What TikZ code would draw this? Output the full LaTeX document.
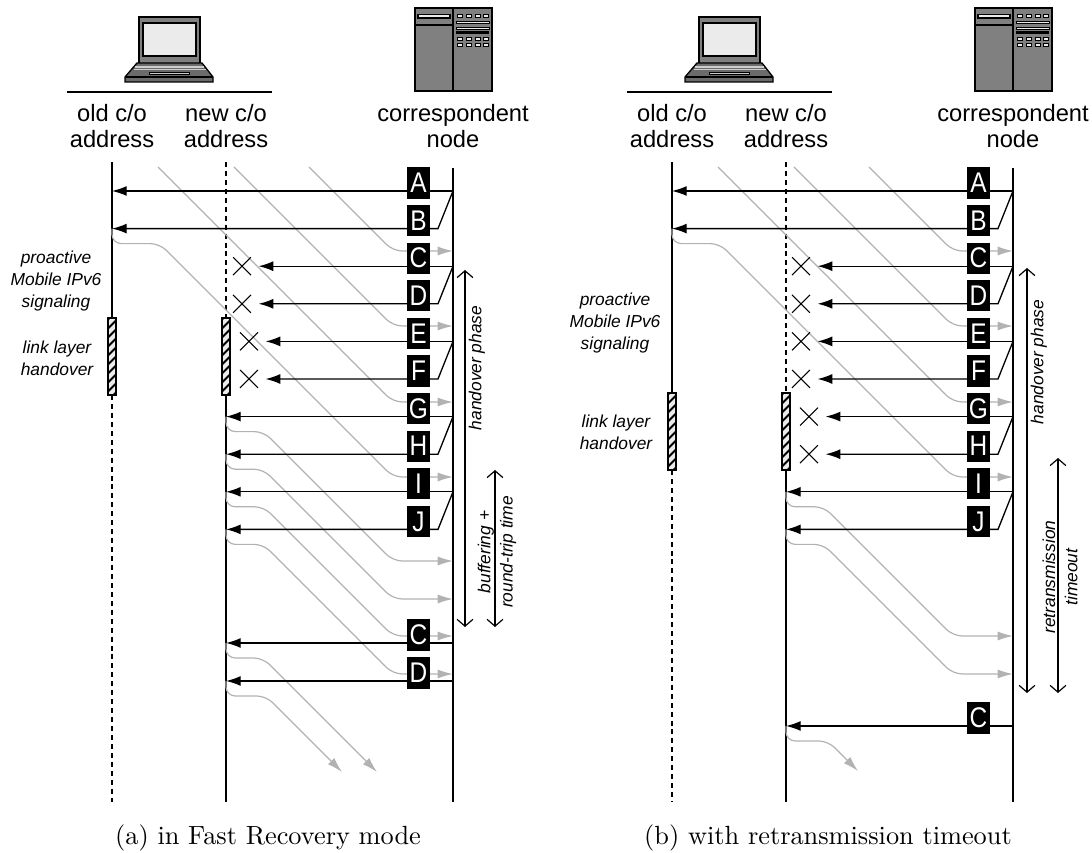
\documentclass[tikz,border=0pt]{standalone}
\usepackage{fontspec}
\usetikzlibrary{arrows.meta,shapes.misc}

\newfontfamily\hvfont{Liberation Sans}
\newfontfamily\hvnarrow[FakeStretch=0.86]{Liberation Sans}
\newcommand{\hostfont}{\hvfont\fontsize{9}{9.6}\selectfont}
\newcommand{\notefont}{\hvfont\itshape\fontsize{6.6}{8.4}\selectfont}
\newcommand{\pktfont}{\hvnarrow\fontsize{10.8}{12}\selectfont}

% ack: leaves lifeline #1 at time #2, reaches lifeline #4 at time #3
\newcommand{\ackline}[4]{%
  \draw[ack] (#1 |- 0,#2) -- ++(0,15) -- (393-#3+#2+15,#2+15) -- (393,#3) -- (#4 |- 0,#3);}

\tikzset{
  laptop/.pic={
    \draw[fill=black!50] (-30,17) rectangle (31,65);
    \draw[fill=black!8] (-26,23) rectangle (27,56);
    \draw[fill=black!58] (-32,63) -- (33,63) -- (44,77) -- (44,82) -- (-44,82) -- (-44,77) -- cycle;
    \draw (-44,77) -- (44,77);
    \draw[black!20, line width=0.6pt] (-34,67) -- (35,67) (-35.5,69.5) -- (36.5,69.5);
    \draw[fill=black!20, line width=0.3pt] (-20,72) rectangle (20,74.5);
  },
  server/.pic={
    \draw[fill=black!50, line width=0.6pt] (-38,8) rectangle (39,91);
    \draw[line width=0.6pt] (0,8) -- (0,91) (-38,25) -- (0,25);
    \draw[fill=black!8, line width=0.4pt] (-35,14.5) rectangle (-3,18);
    \foreach \y in {14.5,37,43}
      \foreach \x in {4,13,22,30}
        \draw[fill=black!8, line width=0.3pt] (\x,\y) rectangle +(5,3);
    \draw[fill=black!8, line width=0.3pt] (3,21.5) rectangle (36,23.5);
    \draw[fill=black!8, line width=0.3pt] (3,27) rectangle (36,29.5);
    \fill (3,31.5) rectangle (36,34);
  },
  hobar/.pic={
    \begin{scope}
      \clip (-4,0) rectangle (4,77);
      \fill (-4,0) rectangle (4,77);
      \foreach \k in {0,...,9}
        \draw[black!8, line width=1.5pt] (-6,\k*9+8) -- (6,\k*9-4);
    \end{scope}
    \draw[line width=0.45pt] (-4,0) rectangle (4,77);
  }
}

\begin{document}
\begin{tikzpicture}[x=0.38pt, y=-0.38pt, line width=0.5pt,
  host/.style={font=\hostfont, align=center, inner sep=0pt},
  note/.style={font=\notefont, align=center, inner sep=0pt},
  pkt/.style={fill=black, text=white, font=\pktfont, minimum width=8.7pt,
    minimum height=11.8pt, inner sep=0pt},
  msg/.style={-{Latex[length=5.6pt,width=3.8pt]}},
  ack/.style={draw=black!30, line width=0.45pt, rounded corners=3.5pt,
    -{Latex[length=5.8pt,width=3.4pt]}},
  lost/.style={cross out, draw, minimum size=6.4pt, inner sep=0pt, line width=0.4pt},
  timespan/.style={line width=0.45pt,
    {Straight Barb[length=2.6pt,width=6pt]}-{Straight Barb[length=2.6pt,width=6pt]}},
  life/.style={line width=0.6pt},
  gone/.style={line width=0.6pt, dash pattern=on 1.9pt off 1.5pt}]
\useasboundingbox (0,0) rectangle (1092,853);

%%% (a) fast recovery
\pic at (169,0) {laptop};
\pic at (453,0) {server};
\draw (67,92) -- (272,92);
\node[host] (old1) at (112,126) {old c/o\\address};
\node[host] (new1) at (226,126) {new c/o\\address};
\node[host] (cn1) at (453,126) {correspondent\\node};

\draw[life] (old1 |- 0,162) -- (old1 |- 0,318);
\draw[gone] (old1 |- 0,395) -- (old1 |- 0,802);
\draw[gone] (new1 |- 0,162) -- (new1 |- 0,318);
\draw[life] (new1 |- 0,395) -- (new1 |- 0,802);
\draw[life] (cn1 |- 0,168) -- (cn1 |- 0,802);
\pic at (old1 |- 0,318) {hobar};
\pic at (new1 |- 0,318) {hobar};

\node[note] (sig1) at (56,281) {proactive\\Mobile IPv6\\signaling};
\node[note] (llh1) at (57,358) {link layer\\handover};

% acks
\foreach \ye in {251,326,402}
  \draw[ack] (393-\ye+167,167) -- (393,\ye) -- (cn1 |- 0,\ye);
\ackline{old1}{228.6}{477}{cn1}
\ackline{new1}{416.6}{561}{cn1}
\ackline{new1}{454.2}{599}{cn1}
\ackline{new1}{491.8}{636}{cn1}
\ackline{new1}{529.4}{674}{cn1}
\coordinate (endC1) at (377,772);
\coordinate (endD1) at (342,772);
\draw[ack] (new1 |- 0,643) -- ++(0,15) -- (263,658) -- (endC1);
\draw[ack] (new1 |- 0,681) -- ++(0,15) -- (266,696) -- (endD1);

% data
\node[lost] (xC1) at (242,266.2) {};
\node[lost] (xD1) at (242,303.8) {};
\node[lost] (xE1) at (249,341.4) {};
\node[lost] (xF1) at (249,379) {};
\draw[msg] (cn1 |- 0,191) -- (old1 |- 0,191);
\draw[msg] (cn1 |- 0,191) -- (438,228.6) -- (old1 |- 0,228.6);
\draw[msg, shorten >=2.9pt] (cn1 |- 0,266.2) -- (xC1);
\draw[msg, shorten >=2.9pt] (cn1 |- 0,266.2) -- (438,303.8) -- (xD1);
\draw[msg, shorten >=2.9pt] (cn1 |- 0,341.4) -- (xE1);
\draw[msg, shorten >=2.9pt] (cn1 |- 0,341.4) -- (438,379) -- (xF1);
\draw[msg] (cn1 |- 0,416.6) -- (new1 |- 0,416.6);
\draw[msg] (cn1 |- 0,416.6) -- (438,454.2) -- (new1 |- 0,454.2);
\draw[msg] (cn1 |- 0,491.8) -- (new1 |- 0,491.8);
\draw[msg] (cn1 |- 0,491.8) -- (438,529.4) -- (new1 |- 0,529.4);
\draw[msg] (cn1 |- 0,643) -- (new1 |- 0,643);
\draw[msg] (cn1 |- 0,681) -- (new1 |- 0,681);

\foreach \p/\t in {A/191,B/228.6,C/266.2,D/303.8,E/341.4,F/379,G/416.6,H/454.2,I/491.8,J/529.4}
  \node[pkt] (p\p1) at (418.5,\t-8) {\p};
\node[pkt] (pC1r) at (418.5,635) {C};
\node[pkt] (pD1r) at (418.5,673) {D};

\coordinate (hoS1) at (465,270);
\coordinate (hoE1) at (465,627);
\draw[timespan] (hoS1) -- (hoE1);
\node[note, rotate=90] (hoT1) at (477,368) {handover phase};
\coordinate (buS1) at (495,470);
\coordinate (buE1) at (495,627);
\draw[timespan] (buS1) -- (buE1);
\node[note, rotate=90] (buT1) at (497,552) {buffering +\\round-trip time};

\node (capA) at (268,838) {(a) in Fast Recovery mode};

%%% (b) retransmission timeout
\begin{scope}[shift={(560,0)}]
\pic at (169,0) {laptop};
\pic at (453,0) {server};
\draw (67,92) -- (272,92);
\node[host] (old2) at (112,126) {old c/o\\address};
\node[host] (new2) at (226,126) {new c/o\\address};
\node[host] (cn2) at (453,126) {correspondent\\node};

\draw[life] (old2 |- 0,162) -- (old2 |- 0,393);
\draw[gone] (old2 |- 0,470) -- (old2 |- 0,802);
\draw[gone] (new2 |- 0,162) -- (new2 |- 0,393);
\draw[life] (new2 |- 0,470) -- (new2 |- 0,802);
\draw[life] (cn2 |- 0,168) -- (cn2 |- 0,802);
\pic at (old2 |- 0,393) {hobar};
\pic at (new2 |- 0,393) {hobar};

\node[note] (sig2) at (55,323) {proactive\\Mobile IPv6\\signaling};
\node[note] (llh2) at (56,432) {link layer\\handover};

% acks
\foreach \ye in {251,326,402}
  \draw[ack] (393-\ye+167,167) -- (393,\ye) -- (cn2 |- 0,\ye);
\ackline{old2}{228.6}{477}{cn2}
\ackline{new2}{491.8}{636}{cn2}
\ackline{new2}{529.4}{674}{cn2}
\coordinate (endC2) at (298,771);
\draw[ack] (new2 |- 0,726) -- ++(0,15) -- (268,741) -- (endC2);

% data
\node[lost] (xC2) at (241,266.2) {};
\node[lost] (xD2) at (241,303.8) {};
\node[lost] (xE2) at (241,341.4) {};
\node[lost] (xF2) at (241,379) {};
\node[lost] (xG2) at (249,416.6) {};
\node[lost] (xH2) at (249,454.2) {};
\draw[msg] (cn2 |- 0,191) -- (old2 |- 0,191);
\draw[msg] (cn2 |- 0,191) -- (438,228.6) -- (old2 |- 0,228.6);
\draw[msg, shorten >=2.9pt] (cn2 |- 0,266.2) -- (xC2);
\draw[msg, shorten >=2.9pt] (cn2 |- 0,266.2) -- (438,303.8) -- (xD2);
\draw[msg, shorten >=2.9pt] (cn2 |- 0,341.4) -- (xE2);
\draw[msg, shorten >=2.9pt] (cn2 |- 0,341.4) -- (438,379) -- (xF2);
\draw[msg, shorten >=2.9pt] (cn2 |- 0,416.6) -- (xG2);
\draw[msg, shorten >=2.9pt] (cn2 |- 0,416.6) -- (438,454.2) -- (xH2);
\draw[msg] (cn2 |- 0,491.8) -- (new2 |- 0,491.8);
\draw[msg] (cn2 |- 0,491.8) -- (438,529.4) -- (new2 |- 0,529.4);
\draw[msg] (cn2 |- 0,726) -- (new2 |- 0,726);

\foreach \p/\t in {A/191,B/228.6,C/266.2,D/303.8,E/341.4,F/379,G/416.6,H/454.2,I/491.8,J/529.4}
  \node[pkt] (p\p2) at (418.5,\t-8) {\p};
\node[pkt] (pC2r) at (418.5,718) {C};

\coordinate (hoS2) at (467,268);
\coordinate (hoE2) at (467,693);
\draw[timespan] (hoS2) -- (hoE2);
\node[note, rotate=90] (hoT2) at (479,362) {handover phase};
\coordinate (reS2) at (498,458);
\coordinate (reE2) at (498,693);
\draw[timespan] (reS2) -- (reE2);
\node[note, rotate=90] (reT2) at (500,577) {retransmission\\timeout};

\node (capB) at (268,838) {(b) with retransmission timeout};
\end{scope}
\end{tikzpicture}
\end{document}
